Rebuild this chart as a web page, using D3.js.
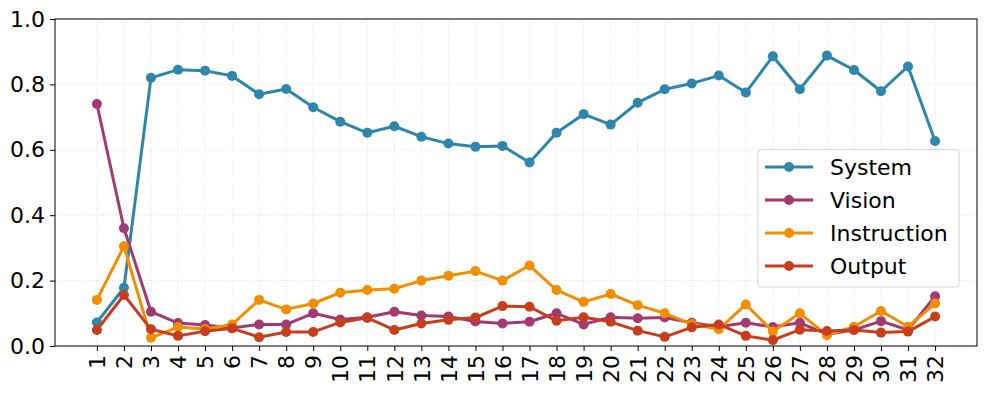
<!DOCTYPE html>
<html><head><meta charset="utf-8">
<script src="https://cdn.jsdelivr.net/npm/d3@7"></script>
<style>body{margin:0;background:#fff}svg{display:block}</style>
</head><body>
<svg id="c" width="987" height="395"></svg>
<script>
const layers = d3.range(1, 33);
const seriesNames = ["System", "Vision", "Instruction", "Output"];
const colors = ["#2e86ab", "#a23b72", "#f18f01", "#c73e1d"];
const system = [0.072,0.178,0.82,0.845,0.842,0.826,0.77,0.786,0.73,0.686,0.652,0.672,0.64,0.619,0.609,0.612,0.561,0.652,0.709,0.677,0.744,0.785,0.803,0.827,0.775,0.886,0.785,0.888,0.844,0.779,0.855,0.627];
const vision = [0.74,0.36,0.105,0.07,0.064,0.055,0.066,0.066,0.1,0.081,0.088,0.105,0.093,0.09,0.075,0.069,0.074,0.1,0.066,0.088,0.085,0.087,0.071,0.059,0.071,0.058,0.071,0.036,0.049,0.076,0.049,0.152];
const instruction = [0.141,0.305,0.025,0.058,0.052,0.066,0.141,0.112,0.13,0.163,0.171,0.175,0.2,0.215,0.229,0.2,0.246,0.171,0.135,0.159,0.125,0.1,0.067,0.051,0.127,0.044,0.1,0.033,0.059,0.107,0.059,0.13];
const output = [0.049,0.156,0.051,0.031,0.045,0.054,0.027,0.043,0.043,0.072,0.086,0.049,0.069,0.08,0.087,0.122,0.12,0.077,0.088,0.074,0.047,0.028,0.057,0.066,0.031,0.018,0.05,0.046,0.049,0.041,0.044,0.09];
const yTicks = [0, 0.2, 0.4, 0.6, 0.8, 1.0];
const allSeries = [system, vision, instruction, output];

const svg = d3.select("#c");
const L = 55, R = 977, T = 19, B = 346;
const x = d3.scaleLinear().domain([1 - 1.55, 32 + 1.55]).range([L, R]);
const y = d3.scaleLinear().domain([0, 1]).range([B, T]);
const font = "DejaVu Sans";
const fs = 22;

// grid
const g = svg.append("g");
g.selectAll(".gy").data(yTicks).join("line")
  .attr("x1", L).attr("x2", R).attr("y1", d => y(d)).attr("y2", d => y(d))
  .attr("stroke", "#b0b0b0").attr("stroke-opacity", 0.45).attr("stroke-width", 0.8).attr("stroke-dasharray", "1,2");
g.selectAll(".gx").data(layers).join("line")
  .attr("y1", T).attr("y2", B).attr("x1", d => x(d)).attr("x2", d => x(d))
  .attr("stroke", "#b0b0b0").attr("stroke-opacity", 0.45).attr("stroke-width", 0.8).attr("stroke-dasharray", "1,2");

// axes
const yAxis = d3.axisLeft(y).tickValues(yTicks).tickFormat(d3.format(".1f")).tickSize(5).tickPadding(5);
const ya = svg.append("g").attr("transform", `translate(${L},0)`).call(yAxis);
ya.select(".domain").remove();
ya.selectAll("text").attr("font-family", font).attr("font-size", fs).attr("fill", "#000");
ya.selectAll("line").attr("stroke", "#000");

const xAxis = d3.axisBottom(x).tickValues(layers).tickFormat(d3.format("d")).tickSize(5).tickPadding(4);
const xa = svg.append("g").attr("transform", `translate(0,${B})`).call(xAxis);
xa.select(".domain").remove();
xa.selectAll("line").attr("stroke", "#000");
xa.selectAll("text").attr("font-family", font).attr("font-size", fs).attr("fill", "#000")
  .attr("transform", "rotate(-90)").attr("text-anchor", "end").attr("dy", "0.35em")
  .attr("x", -9).attr("y", 0);

// lines
const line = d3.line().x((d, i) => x(layers[i])).y(d => y(d));
allSeries.forEach((s, k) => {
  svg.append("path").datum(s).attr("d", line).attr("fill", "none")
    .attr("stroke", colors[k]).attr("stroke-width", 3).attr("stroke-linejoin", "round");
  svg.append("g").selectAll("circle").data(s).join("circle")
    .attr("cx", (d, i) => x(layers[i])).attr("cy", d => y(d)).attr("r", 5).attr("fill", colors[k]);
});

// frame
svg.append("rect").attr("x", L).attr("y", T).attr("width", R - L).attr("height", B - T)
  .attr("fill", "none").attr("stroke", "#000").attr("stroke-width", 1);

// legend
const lg = svg.append("g");
lg.append("rect").attr("x", 758).attr("y", 149.5).attr("width", 201).attr("height", 137.5).attr("rx", 3)
  .attr("fill", "#fff").attr("fill-opacity", 0.8).attr("stroke", "#d5d5d5");
seriesNames.forEach((n, k) => {
  const yy = 167 + k * 33;
  lg.append("line").attr("x1", 765).attr("x2", 813).attr("y1", yy).attr("y2", yy).attr("stroke", colors[k]).attr("stroke-width", 3);
  lg.append("circle").attr("cx", 789).attr("cy", yy).attr("r", 5).attr("fill", colors[k]);
  lg.append("text").attr("x", 830).attr("y", yy).attr("dy", "0.35em").attr("font-family", font).attr("font-size", fs).text(n);
});
</script>
</body></html>
